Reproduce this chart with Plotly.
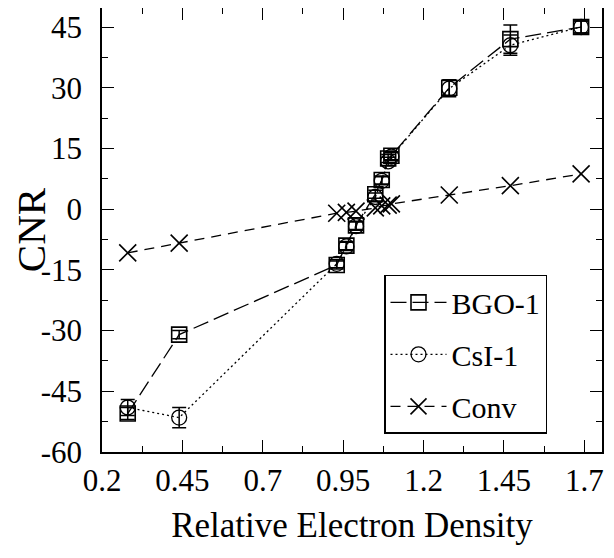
import plotly.graph_objects as go

density = [0.28, 0.44, 0.93, 0.96, 0.99, 1.05, 1.07, 1.09, 1.10, 1.28, 1.47, 1.69]
bgo_cnr = [-50.5, -31.0, -13.8, -9.0, -4.0, 3.7, 7.2, 12.5, 13.2, 30.0, 42.0, 45.0]
bgo_err = [1.5, 1.0, 1.0, 1.0, 1.0, 1.0, 1.0, 1.0, 1.0, 2.0, 3.5, 1.5]
csi_cnr = [-49.0, -51.5, -13.5, -9.2, -4.2, 3.0, 7.0, 11.8, 13.0, 29.8, 40.5, 45.0]
csi_err = [2.0, 2.5, 1.0, 1.0, 1.0, 1.0, 1.0, 1.0, 1.0, 2.0, 2.5, 1.5]
conv_cnr = [-10.8, -8.4, -1.0, -0.8, -0.5, 0.3, 0.8, 1.0, 1.3, 3.5, 5.8, 8.7]

x_ticks = [0.2, 0.45, 0.7, 0.95, 1.2, 1.45, 1.7]
y_ticks = [-60, -45, -30, -15, 0, 15, 30, 45]

FONT = "Liberation Serif"

fig = go.Figure()

fig.add_trace(go.Scatter(
    x=density, y=bgo_cnr, name="BGO-1", legendgroup="a",
    mode="lines+markers",
    line=dict(color="black", width=1.3, dash="16px,6px"),
    marker=dict(symbol="square-open", size=15, color="black", line=dict(width=1.6, color="black")),
    error_y=dict(type="data", array=bgo_err, color="black", thickness=1.5, width=7),
))
fig.add_trace(go.Scatter(
    x=density, y=csi_cnr, name="CsI-1", legendgroup="b",
    mode="lines+markers",
    line=dict(color="black", width=1.3, dash="2px,3px"),
    marker=dict(symbol="circle-open", size=15, color="black", line=dict(width=1.3, color="black")),
    error_y=dict(type="data", array=csi_err, color="black", thickness=1.5, width=7),
))
fig.add_trace(go.Scatter(
    x=density, y=conv_cnr, name="Conv", legendgroup="c",
    mode="lines+markers",
    line=dict(color="black", width=1.3, dash="10px,7px"),
    marker=dict(symbol="x-thin-open", size=17, color="black", line=dict(width=1.6, color="black")),
))

axis_common = dict(
    showline=True, linecolor="black", linewidth=1.5, mirror="ticks",
    ticks="inside", ticklen=12, tickwidth=1.2, tickcolor="black",
    showgrid=False, zeroline=False,
    tickfont=dict(family=FONT, size=31, color="black"),
)

fig.update_xaxes(
    range=[0.2, 1.755], tickvals=x_ticks, ticktext=[str(v) for v in x_ticks],
    minor=dict(ticks="inside", ticklen=6, tickwidth=1.2, tickcolor="black", dtick=0.125, tick0=0.2),
    title=dict(text="Relative Electron Density", font=dict(family=FONT, size=35, color="black"), standoff=16),
    **axis_common,
)
fig.update_yaxes(
    range=[-60, 49.7], tickvals=y_ticks, ticktext=[str(v) for v in y_ticks],
    minor=dict(ticks="inside", ticklen=6, tickwidth=1.2, tickcolor="black", dtick=7.5, tick0=-60),
    title=dict(text="CNR", font=dict(family=FONT, size=41, color="black"), standoff=4),
    ticklabelstandoff=12,
    **axis_common,
)

fig.update_layout(
    width=614, height=558,
    margin=dict(l=94, r=20, t=0, b=114, autoexpand=False),
    paper_bgcolor="white", plot_bgcolor="white",
    font=dict(family=FONT, color="black"),
    showlegend=True,
    legend=dict(
        x=0.89, y=0.399, xanchor="right", yanchor="top",
        bgcolor="white", bordercolor="black", borderwidth=1.5,
        font=dict(family=FONT, size=30, color="black"),
        itemwidth=56, tracegroupgap=10, traceorder="grouped",
    ),
)

fig.write_html("out.html")
